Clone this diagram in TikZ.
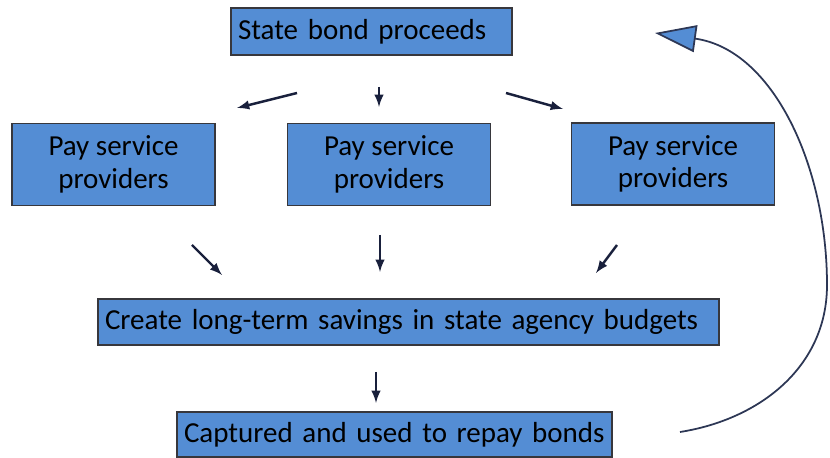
\documentclass[tikz,border=0pt]{standalone}
\usepackage{fontspec}
\setmainfont{Carlito}
\usepackage{xcolor}
\usepackage{tikz}
\usetikzlibrary{arrows, arrows.meta, positioning}
\definecolor{boxblue}{RGB}{84, 141, 212}
\definecolor{edgegray}{RGB}{55, 55, 60}
\definecolor{arrownavy}{RGB}{25, 32, 60}
\definecolor{slateline}{RGB}{45, 55, 85}

\begin{document}
\begin{tikzpicture}[
						box/.style={draw=edgegray, line width=0.8pt, fill=boxblue, minimum height=0.92cm, inner xsep=0.14cm, font=\fontsize{16.5}{18.5}\selectfont},
						wide/.style={box, align=left},
						psp/.style={box, minimum width=4.06cm, minimum height=1.64cm, align=center},
						arrow/.style={-latex, line width=1.4pt, arrownavy},
						backarrow/.style={-{Triangle[length=8.2mm, width=5.4mm, fill=boxblue]}, line width=1pt, slateline}
					]

					\useasboundingbox (0,0) rectangle (16.6,-9.16);

					% Bond money
					\node[wide, text width=5.34cm, minimum height=0.94cm] (bond) at (7.43,-0.63) {State bond proceeds};

					% Three payments
					\node[psp] (pay1) at (2.27,-3.29) {Pay service\\providers};
					\node[psp] (pay2) at (7.78,-3.29) {Pay service\\providers};
					\node[psp] (pay3) at (13.46,-3.28) {Pay service\\providers};

					% Savings and repayment
					\node[wide, text width=12.14cm] (savings) at (8.17,-6.44) {Create long-term savings in state agency budgets};
					\node[wide, text width=8.42cm, minimum height=0.9cm] (repay) at (7.89,-8.69) {Captured and used to repay bonds};

					% Arrow ends
					\coordinate (a1s) at (5.94,-1.86); \coordinate (a1e) at (4.74,-2.16);
					\coordinate (a2s) at (7.58,-1.74); \coordinate (a2e) at (7.58,-2.14);
					\coordinate (a3s) at (10.12,-1.86); \coordinate (a3e) at (11.26,-2.18);
					\coordinate (b1s) at (3.84,-4.90); \coordinate (b1e) at (4.44,-5.50);
					\coordinate (b2s) at (7.60,-4.70); \coordinate (b2e) at (7.60,-5.44);
					\coordinate (b3s) at (12.34,-4.90); \coordinate (b3e) at (11.92,-5.46);
					\coordinate (c1s) at (7.52,-7.44); \coordinate (c1e) at (7.52,-8.06);

					% Arrows
					\draw[arrow] (a1s) -- (a1e);
					\draw[arrow] (a2s) -- (a2e);
					\draw[arrow] (a3s) -- (a3e);

					\draw[arrow] (b1s) -- (b1e);
					\draw[arrow] (b2s) -- (b2e);
					\draw[arrow] (b3s) -- (b3e);

					\draw[arrow] (c1s) -- (c1e);

					% Loop back to the bonds
					\coordinate (loopstart) at (13.6,-8.64);
					\coordinate (loopright) at (16.54,-5.7);
					\coordinate (looptip) at (13.10,-0.66);
					\draw[backarrow] (loopstart) to[out=9, in=-90] (loopright) to[out=90, in=-8] (looptip);
				\end{tikzpicture}
\end{document}
